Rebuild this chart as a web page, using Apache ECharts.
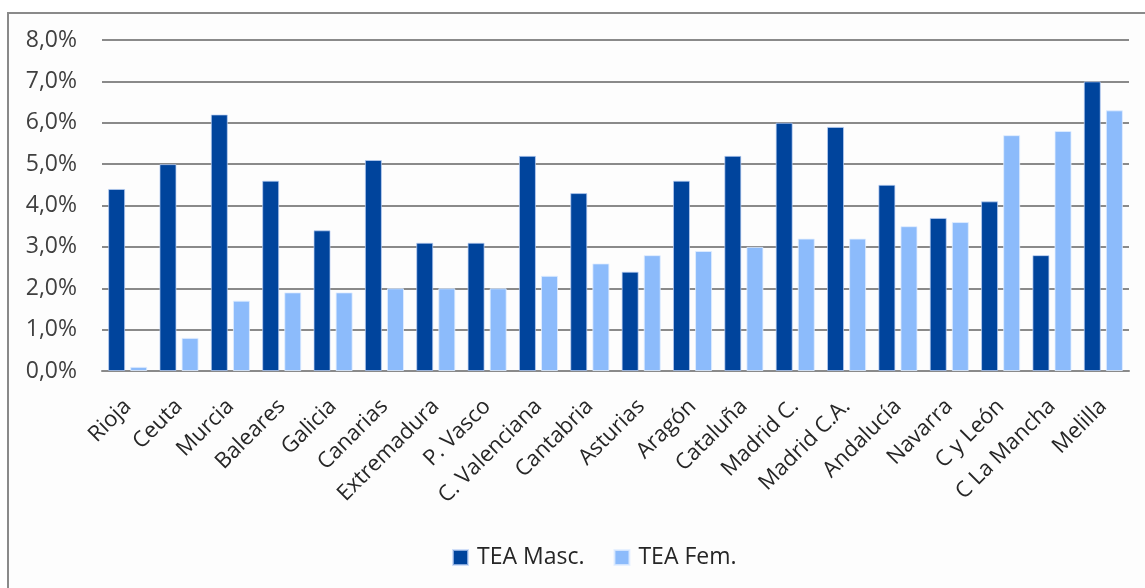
<!DOCTYPE html>
<html>
<head>
<meta charset="utf-8">
<script src="https://cdn.jsdelivr.net/npm/echarts@6/dist/echarts.min.js"></script>
<style>
  html, body { margin: 0; padding: 0; background: #ffffff; }
  #chart { width: 1145px; height: 588px; }
</style>
</head>
<body>
<div id="chart"></div>
<script>
// Regions, ordered by the women's TEA rate
const regions = ['Rioja', 'Ceuta', 'Murcia', 'Baleares', 'Galicia', 'Canarias', 'Extremadura',
  'P. Vasco', 'C. Valenciana', 'Cantabria', 'Asturias', 'Aragón', 'Cataluña', 'Madrid C.',
  'Madrid C.A.', 'Andalucía', 'Navarra', 'C y León', 'C La Mancha', 'Melilla'];

// TEA rates in percent
const teaMasc = [4.4, 5.0, 6.2, 4.6, 3.4, 5.1, 3.1, 3.1, 5.2, 4.3, 2.4, 4.6, 5.2, 6.0, 5.9, 4.5, 3.7, 4.1, 2.8, 7.0];
const teaFem  = [0.1, 0.8, 1.7, 1.9, 1.9, 2.0, 2.0, 2.0, 2.3, 2.6, 2.8, 2.9, 3.0, 3.2, 3.2, 3.5, 3.6, 5.7, 5.8, 6.3];

const seriesNames = ['TEA Masc.', 'TEA Fem.'];

const FONT = '"Open Sans", "Liberation Sans", sans-serif';
const fmtPct = v => v.toFixed(1).replace('.', ',') + '%';

const chart = echarts.init(document.getElementById('chart'), null, { renderer: 'canvas' });

chart.setOption({
  backgroundColor: '#ffffff',
  animation: false,
  graphic: [{
    type: 'rect',
    left: 7, top: 12,
    shape: { width: 1200, height: 700 },
    style: { fill: '#fdfdfd', stroke: '#8a8a8a', lineWidth: 2 },
    z: -10
  }],
  grid: { left: 102, right: 16, top: 40, bottom: 217, containLabel: false },
  legend: {
    bottom: 14,
    left: 447,
    itemWidth: 15,
    itemHeight: 15,
    itemGap: 29,
    icon: 'rect',
    textStyle: { fontFamily: FONT, fontSize: 23, color: '#262626', padding: [0, 0, 0, 4] },
    data: seriesNames
  },
  xAxis: {
    type: 'category',
    data: regions,
    axisTick: { show: false },
    axisLine: { lineStyle: { color: '#8a8a8a', width: 2 } },
    axisLabel: {
      interval: 0,
      rotate: 45,
      margin: 32,
      fontFamily: FONT,
      fontSize: 22,
      color: '#262626'
    }
  },
  yAxis: {
    type: 'value',
    min: 0, max: 8, interval: 1,
    axisLine: { show: false },
    axisTick: { show: false },
    splitLine: { lineStyle: { color: '#8a8a8a', width: 2 } },
    axisLabel: {
      margin: 25,
      fontFamily: FONT,
      fontSize: 23,
      color: '#404040',
      formatter: fmtPct
    }
  },
  series: [
    {
      name: seriesNames[0],
      type: 'bar',
      data: teaMasc,
      barWidth: 17,
      barGap: '30%',
      itemStyle: { color: '#00449c', borderColor: 'rgba(190,210,245,0.7)', borderWidth: 1 }
    },
    {
      name: seriesNames[1],
      type: 'bar',
      data: teaFem,
      barWidth: 17,
      barGap: '30%',
      itemStyle: { color: '#8cbbfb', borderColor: 'rgba(225,238,255,0.8)', borderWidth: 1 }
    }
  ]
});
</script>
</body>
</html>
